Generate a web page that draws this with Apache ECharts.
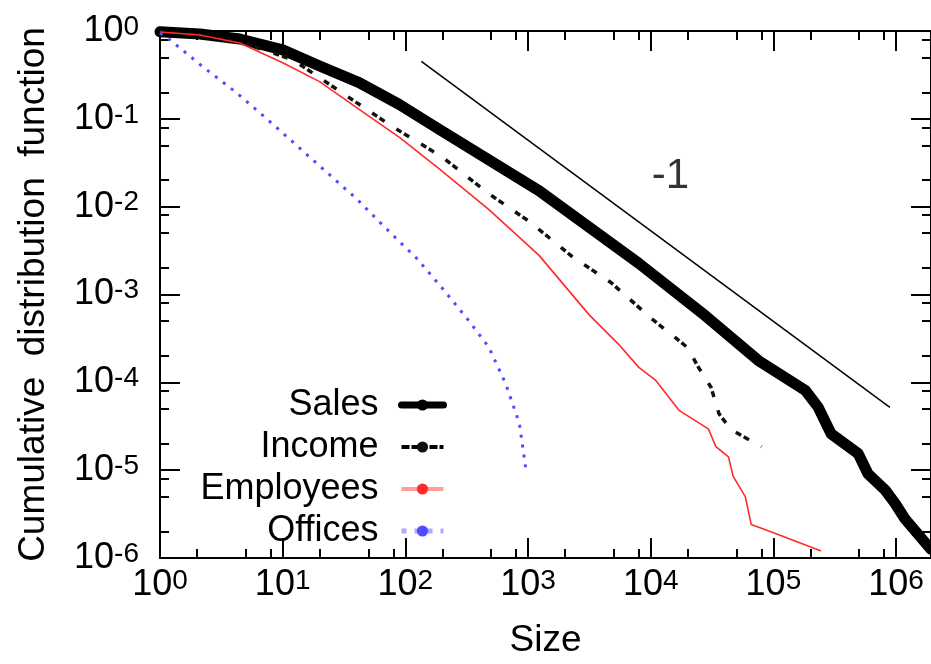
<!DOCTYPE html>
<html>
<head>
<meta charset="utf-8">
<script src="https://cdn.jsdelivr.net/npm/echarts@6/dist/echarts.min.js"></script>
<style>
html,body{margin:0;padding:0;background:#fff;}
#chart{width:931px;height:664px;}
</style>
</head>
<body>
<div id="chart"></div>
<script>
// ---- data ----
const salesData = [
  [1, 0.98], [2.11, 0.925], [4.47, 0.81], [10, 0.61], [20, 0.40], [42, 0.258],
  [89, 0.146], [189, 0.076], [1230, 0.0152], [7980, 0.00227], [2.8e4, 5.7e-4],
  [7.55e4, 1.77e-4], [1.82e5, 8.1e-5], [2.32e5, 5.2e-5], [2.95e5, 2.6e-5],
  [4.9e5, 1.55e-5], [5.9e5, 9.1e-6], [8.1e5, 6.0e-6], [9.8e5, 4.2e-6],
  [1.18e6, 2.8e-6], [1.93e6, 1.25e-6]
];
const incomeData = [
  [1, 0.98], [2.11, 0.90], [4.47, 0.75], [7.8, 0.58], [12.1, 0.47], [20, 0.294],
  [39.8, 0.154], [78, 0.082], [200, 0.0367], [480, 0.014], [1020, 0.0068],
  [2280, 0.00272], [4800, 0.00135], [1.0e4, 5.4e-4], [1.6e4, 3.2e-4],
  [2.0e4, 2.48e-4], [2.45e4, 1.48e-4], [3.1e4, 8.8e-5], [3.6e4, 4.4e-5],
  [4.5e4, 2.9e-5], [8.0e4, 1.85e-5]
];
const employeesData = [
  [1, 0.975], [2.11, 0.90], [4.47, 0.73], [10, 0.435], [20, 0.265], [42, 0.128],
  [89, 0.0618], [189, 0.0269], [480, 0.00925], [1230, 0.00279], [3150, 5.86e-4],
  [5500, 2.69e-4], [8000, 1.48e-4], [1.1e4, 1.05e-4], [1.7e4, 4.8e-5],
  [2.95e4, 2.95e-5], [3.4e4, 1.85e-5], [4.3e4, 1.42e-5], [4.7e4, 8.5e-6],
  [5.9e4, 5.0e-6], [6.6e4, 2.4e-6], [1.04e5, 1.9e-6], [2.45e5, 1.2e-6]
];
const officesData = [
  [1, 0.95], [1.21, 0.79], [2.24, 0.39], [4.2, 0.199], [8.9, 0.080], [19, 0.031],
  [40, 0.0123], [70, 0.0056], [123, 0.0026], [200, 1.18e-3], [330, 5.0e-4],
  [480, 2.5e-4], [660, 9.5e-5], [850, 3.4e-5], [960, 1.02e-5]
];
const slopeLineData = [[135, 0.45], [8.9e5, 5.2e-5]];
const slopeLabelData = [[1.45e4, 0.0219]];
const slopeLabelText = '-1';

const seriesNames = ['Sales', 'Income', 'Employees', 'Offices'];
const xMajorTicks = [1, 10, 100, 1e3, 1e4, 1e5, 1e6];
const xMinorTicks = [2, 5, 8, 20, 50, 80, 200, 500, 800, 2e3, 5e3, 8e3, 2e4, 5e4, 8e4, 2e5, 5e5, 8e5];
const yMajorTicks = [1e-6, 1e-5, 1e-4, 1e-3, 1e-2, 1e-1, 1];
const yMinorTicks = [2e-6, 5e-6, 8e-6, 2e-5, 5e-5, 8e-5, 2e-4, 5e-4, 8e-4, 2e-3, 5e-3, 8e-3, 0.02, 0.05, 0.08, 0.2, 0.5, 0.8];
const xMin = 1, xMax = 1.926e6, yMin = 1e-6, yMax = 1;
const xTitle = 'Size';
const yTitle = 'Cumulative  distribution  function';

// ---- chart ----
const FONT = '"Liberation Sans", Arial, Helvetica, sans-serif';
const chart = echarts.init(document.getElementById('chart'), null, {renderer: 'canvas'});

function powLabel(v) {
  const e = Math.round(Math.log10(v));
  return '{b|10}{s|' + e + '}';
}
const richLabel = {
  b: {fontSize: 36, fontFamily: FONT, color: '#000', lineHeight: 36, padding: [12, 0, 0, 0], verticalAlign: 'bottom'},
  s: {fontSize: 28, fontFamily: FONT, color: '#000', lineHeight: 28, verticalAlign: 'top'}
};
const tickLine = {color: '#000', width: 2};

function xAxisDef(pos, major, withLabel) {
  return {
    type: 'log', logBase: 10, min: xMin, max: xMax, position: pos, gridIndex: 0,
    axisLine: {show: major, onZero: false, lineStyle: {color: '#000', width: 2}},
    axisTick: {show: true, inside: true, length: major ? 20 : 9, customValues: major ? xMajorTicks : xMinorTicks, lineStyle: tickLine},
    axisLabel: withLabel ? {show: true, customValues: xMajorTicks, formatter: powLabel, rich: richLabel, margin: 9} : {show: false},
    splitLine: {show: false}, minorTick: {show: false}, minorSplitLine: {show: false},
    name: withLabel ? xTitle : '', nameLocation: 'middle', nameGap: 64,
    nameTextStyle: {fontSize: 37, fontFamily: FONT, color: '#000'}
  };
}
function yAxisDef(pos, major, withLabel) {
  return {
    type: 'log', logBase: 10, min: yMin, max: yMax, position: pos, gridIndex: 0,
    axisLine: {show: major, onZero: false, lineStyle: {color: '#000', width: 2}},
    axisTick: {show: true, inside: true, length: major ? 20 : 9, customValues: major ? yMajorTicks : yMinorTicks, lineStyle: tickLine},
    axisLabel: withLabel ? {show: true, customValues: yMajorTicks, formatter: powLabel, rich: richLabel, margin: 21} : {show: false},
    splitLine: {show: false}, minorTick: {show: false}, minorSplitLine: {show: false},
    name: withLabel ? yTitle : '', nameLocation: 'middle', nameGap: 108,
    nameTextStyle: {fontSize: 37, fontFamily: FONT, color: '#000'}
  };
}

const option = {
  animation: false,
  backgroundColor: '#fff',
  grid: {left: 160, top: 31, width: 773, height: 531, containLabel: false},
  xAxis: [xAxisDef('bottom', true, true), xAxisDef('bottom', false, false), xAxisDef('top', true, false), xAxisDef('top', false, false)],
  yAxis: [yAxisDef('left', true, true), yAxisDef('left', false, false), yAxisDef('right', true, false), yAxisDef('right', false, false)],
  legend: {
    show: true, orient: 'vertical', align: 'right', right: 479, top: 382,
    itemWidth: 42, itemHeight: 14, itemGap: 6, selectedMode: false,
    textStyle: {fontSize: 36, fontFamily: FONT, color: '#000', lineHeight: 36, padding: [0, 18, 0, 0]},
    data: [
      {name: seriesNames[0], lineStyle: {color: '#000', width: 7, type: 'solid'}},
      {name: seriesNames[1], lineStyle: {color: '#000', width: 4, type: [8, 2, 8, 10]}},
      {name: seriesNames[2], lineStyle: {color: '#ff9c9c', width: 4, type: 'solid'}},
      {name: seriesNames[3], lineStyle: {color: '#aaaaff', width: 5, type: [5, 8]}}
    ]
  },
  series: [
    {name: seriesNames[0], type: 'line', data: salesData, symbol: 'none', smooth: false,
     lineStyle: {color: '#000', width: 11, join: 'round', cap: 'round'}, itemStyle: {color: '#000'}},
    {name: seriesNames[1], type: 'line', data: incomeData, symbol: 'none', smooth: false,
     lineStyle: {color: '#111', width: 3.5, type: [6, 3, 6, 14]}, itemStyle: {color: '#111'}},
    {name: seriesNames[2], type: 'line', data: employeesData, symbol: 'none', smooth: false,
     lineStyle: {color: '#ff2a2a', width: 1.6}, itemStyle: {color: '#ff2a2a'}},
    {name: seriesNames[3], type: 'line', data: officesData, symbol: 'none', smooth: false,
     lineStyle: {color: '#4d4dff', width: 3, type: [3, 7]}, itemStyle: {color: '#4d4dff'}},
    {name: 'slope', type: 'line', data: slopeLineData, symbol: 'none', silent: true,
     lineStyle: {color: '#000', width: 1.5}},
    {name: 'slopeLabel', type: 'scatter', data: slopeLabelData, symbolSize: 1, silent: true,
     itemStyle: {color: 'rgba(0,0,0,0)'},
     label: {show: true, position: 'inside', formatter: slopeLabelText, fontSize: 42, fontFamily: FONT, color: '#000'}}
  ]
};
chart.setOption(option);
</script>
</body>
</html>
